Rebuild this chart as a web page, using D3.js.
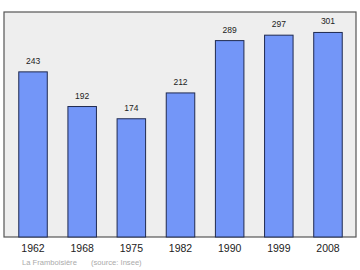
<!DOCTYPE html>
<html><head><meta charset="utf-8">
<script src="https://cdn.jsdelivr.net/npm/d3@7"></script>
<style>body{margin:0;background:#fff}svg{display:block}</style>
</head><body>
<script>
const years = ["1962","1968","1975","1982","1990","1999","2008"];
const population = [243,192,174,212,289,297,301];
const footerParts = ["La Framboisière", "(source: Insee)"];

const W = 360, H = 270;
const frame = {x0:4, y0:12, x1:356, y1:237};
const svg = d3.select("body").append("svg").attr("width",W).attr("height",H);

const x = d3.scaleBand().domain(years).range([frame.x0+1, frame.x1]).paddingInner(0.42).paddingOuter(0.28);
const y = d3.scaleLinear().domain([0, d3.max(population)*1.1]).range([frame.y1, frame.y0]);

svg.append("rect").attr("x",frame.x0).attr("y",frame.y0)
  .attr("width",frame.x1-frame.x0).attr("height",frame.y1-frame.y0)
  .attr("fill","#eeeeee").attr("stroke","#555").attr("stroke-width",1.2);

svg.selectAll("rect.bar").data(population).enter().append("rect").attr("class","bar")
  .attr("x",(d,i)=>x(years[i])).attr("y",d=>y(d))
  .attr("width",x.bandwidth()).attr("height",d=>y(0)-y(d))
  .attr("fill","#7396f8").attr("stroke","#1f2a50").attr("stroke-width",1);

svg.selectAll("text.val").data(population).enter().append("text").attr("class","val")
  .attr("x",(d,i)=>x(years[i])+x.bandwidth()/2).attr("y",d=>y(d)-8)
  .attr("text-anchor","middle").attr("font-family","Liberation Sans, Arial, sans-serif")
  .attr("font-size",8.5).attr("fill","#222").text(d=>d);

const xAxis = d3.axisBottom(x).tickSize(0).tickPadding(0);
const ax = svg.append("g").attr("transform",`translate(0,${frame.y1})`).call(xAxis);
ax.select(".domain").remove();
ax.selectAll("text").attr("y",15).attr("dy",0).attr("font-family","Liberation Sans, Arial, sans-serif")
  .attr("font-size",10.5).attr("fill","#222");

const foot = svg.append("text").attr("y",265).attr("font-family","Liberation Sans, Arial, sans-serif")
  .attr("font-size",7.6).attr("fill","#aaa");
foot.append("tspan").attr("x",22).text(footerParts[0]);
foot.append("tspan").attr("x",91).text(footerParts[1]);
</script>
</body></html>
